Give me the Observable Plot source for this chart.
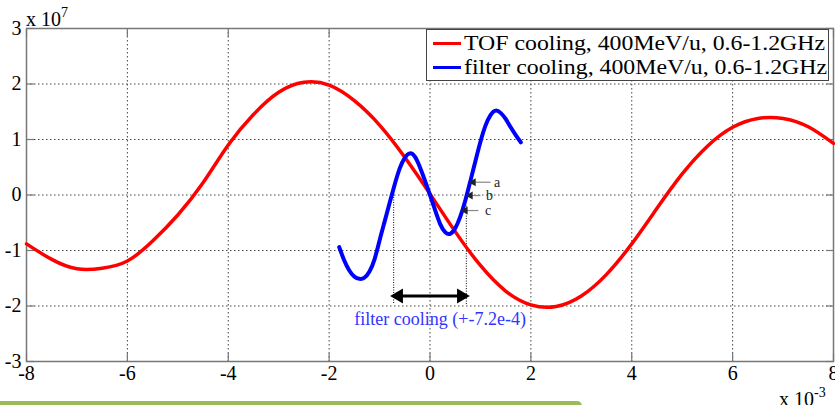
<!DOCTYPE html>
<html><head><meta charset="utf-8">
<script src="https://cdn.jsdelivr.net/npm/d3@7"></script>
<script src="https://cdn.jsdelivr.net/npm/@observablehq/plot@0.6"></script>
<style>
body{margin:0;background:#fff;}
#wrap{position:relative;width:835px;height:405px;overflow:hidden;font-family:"Liberation Serif","Times New Roman",serif;color:#000;}
#wrap svg{position:absolute;left:0;top:0;font-family:"Liberation Serif",serif;}
#wrap svg text{font-family:"Liberation Serif",serif;}
.abs{position:absolute;white-space:nowrap;line-height:1;}
#legend{position:absolute;left:426px;top:29px;width:403px;height:52px;border:1px solid #444;background:#fff;box-sizing:border-box;}
.lrow{position:absolute;left:6px;height:24px;display:flex;align-items:center;font-size:20px;}
.lrow span.sw{display:inline-block;width:28px;height:3px;margin-right:3px;}
.lrow span.lt{display:inline-block;transform-origin:0 50%;}
#greenbar{position:absolute;left:0;top:401px;width:582px;height:8px;background:#9bbb59;border-radius:0 5px 0 0;}
</style></head><body><div id="wrap"></div>
<script>
// TOF cooling curve (x in 1e-3, y in 1e7)
const tofX = [-8,-7.5,-7,-6.5,-6,-5.5,-5,-4.5,-4,-3.5,-3,-2.5,-2,-1.5,-1,-0.5,0,0.5,1,1.5,2,2.5,3,3.5,4,4.5,5,5.5,6,6.5,7,7.5,8];
const tofY = [-0.88,-1.16,-1.33,-1.32,-1.19,-0.83,-0.36,0.22,0.90,1.45,1.85,2.03,1.98,1.70,1.26,0.68,0.02,-0.66,-1.27,-1.73,-1.98,-2.01,-1.82,-1.43,-0.88,-0.24,0.38,0.88,1.22,1.38,1.38,1.23,0.93];
// filter cooling curve
const filterX = [-1.8,-1.7,-1.6,-1.5,-1.4,-1.3,-1.2,-1.1,-1.0,-0.9,-0.8,-0.7,-0.6,-0.5,-0.4,-0.3,-0.2,-0.1,0,0.1,0.2,0.3,0.4,0.5,0.6,0.7,0.8,0.9,1.0,1.1,1.2,1.3,1.4,1.5,1.6,1.7,1.8];
const filterY = [-0.94,-1.18,-1.36,-1.47,-1.51,-1.49,-1.38,-1.16,-0.82,-0.48,-0.14,0.19,0.48,0.67,0.75,0.69,0.50,0.26,0,-0.27,-0.52,-0.67,-0.70,-0.60,-0.39,-0.10,0.25,0.61,0.96,1.25,1.44,1.52,1.48,1.37,1.22,1.08,0.95];
const xTicks = [-8,-6,-4,-2,0,2,4,6,8];
const yTicks = [-3,-2,-1,0,1,2,3];
const legendLabels = ["TOF cooling, 400MeV/u, 0.6-1.2GHz","filter cooling, 400MeV/u, 0.6-1.2GHz"];
const seriesColors = ["#ff0000","#0000ff"];
// annotation: cooling range +-7.2e-4
const bounds = [-0.72, 0.72];
const guideTop = [0, -0.2];
const guideBottom = -1.98;
const spanY = -1.82;
const spanText = "filter cooling (+-7.2e-4)";
const spanTextPos = {x: 0.2, y: -2.24};
const pointerLabels = ["a","b","c"];
const pointerTip = [0.80, 0.74, 0.64];
const pointerTail = [1.20, 1.00, 0.96];
const pointerY = [0.23, -0.01, -0.28];
const pointerTextX = [1.27, 1.11, 1.09];

const tof = tofX.map((x,i)=>({x, y: tofY[i]}));
const filt = filterX.map((x,i)=>({x, y: filterY[i]}));
const guides = bounds.map((x,i)=>({x, y1: guideTop[i], y2: guideBottom}));
const span = [{x1: bounds[0], x2: bounds[1], y: spanY}];
const pointers = pointerLabels.map((t,i)=>({t, tip: pointerTip[i], tail: pointerTail[i], y: pointerY[i], tx: pointerTextX[i]}));

const tickCol = "#777";
const gridOpts = {stroke:"#444", strokeOpacity:1, strokeDasharray:"1.5,2.5", strokeWidth:1};
const serif = "Liberation Serif";

const chart = Plot.plot({
  width: 835, height: 405,
  marginLeft: 26, marginRight: 2, marginTop: 28, marginBottom: 44,
  x: {domain: [-8, 8]},
  y: {domain: [-3, 3]},
  style: {fontFamily: serif, fontSize: "20px", color: "#000", background: "transparent", overflow: "visible"},
  marks: [
    Plot.gridX(xTicks, gridOpts),
    Plot.gridY(yTicks, gridOpts),
    Plot.axisX({ticks: xTicks, anchor: "bottom", tickSize: 0, tickPadding: 4, tickFormat: d => String(d), label: null, fontSize: 20, fontFamily: serif}),
    Plot.axisY({ticks: yTicks, anchor: "left", tickSize: 0, tickPadding: 5, tickFormat: d => String(d), label: null, fontSize: 20, fontFamily: serif}),
    Plot.axisX({ticks: xTicks, anchor: "bottom", tickSize: -8, tickFormat: () => "", label: null, color: tickCol, strokeWidth: 1.2}),
    Plot.axisX({ticks: xTicks, anchor: "top", tickSize: -8, tickFormat: () => "", label: null, color: tickCol, strokeWidth: 1.2}),
    Plot.axisY({ticks: yTicks, anchor: "left", tickSize: -8, tickFormat: () => "", label: null, color: tickCol, strokeWidth: 1.2}),
    Plot.axisY({ticks: yTicks, anchor: "right", tickSize: -8, tickFormat: () => "", label: null, color: tickCol, strokeWidth: 1.2}),
    Plot.frame({stroke: "#777", strokeWidth: 1.5}),
    Plot.ruleX(guides, {x: "x", y1: "y1", y2: "y2", stroke: "#000", strokeWidth: 1, strokeDasharray: "1,1.5"}),
    Plot.line(tof, {x: "x", y: "y", stroke: seriesColors[0], strokeWidth: 3.5, curve: "natural"}),
    Plot.line(filt, {x: "x", y: "y", stroke: seriesColors[1], strokeWidth: 4, curve: "natural"}),
    Plot.link(span, {x1: "x1", x2: "x2", y1: "y", y2: "y", stroke: "#000", strokeWidth: 3, insetLeft: 4, insetRight: 4}),
    Plot.dot(span, {x: "x1", y: "y", rotate: -90, symbol: "triangle", r: 5.5, fill: "#000", stroke: "none", dx: 5}),
    Plot.dot(span, {x: "x2", y: "y", rotate: 90, symbol: "triangle", r: 5.5, fill: "#000", stroke: "none", dx: -5}),
    Plot.text([spanText], {x: spanTextPos.x, y: spanTextPos.y, text: d => d, fill: "#3333ff", fontSize: 18, fontFamily: serif}),
    Plot.link(pointers, {x1: "tail", x2: "tip", y1: "y", y2: "y", stroke: "#888", strokeWidth: 1.2}),
    Plot.dot(pointers, {x: "tip", y: "y", symbol: "triangle", rotate: -90, r: 3, fill: "#222", stroke: "none", dx: 3}),
    Plot.text(pointers, {x: "tx", y: "y", text: "t", textAnchor: "start", fontSize: 14, fill: "#222", fontFamily: serif})
  ]
});
const wrap = document.getElementById("wrap");
wrap.appendChild(chart);

const legend = document.createElement("div");
legend.id = "legend";
legendLabels.forEach((lab, i) => {
  const row = document.createElement("div");
  row.className = "lrow";
  row.style.top = (1 + i * 24) + "px";
  row.innerHTML = `<span class="sw" style="background:${seriesColors[i]}"></span><span class="lt">${lab}</span>`;
  legend.appendChild(row);
});
wrap.appendChild(legend);
// stretch legend text to the reference width
legend.querySelectorAll(".lt").forEach((el, i) => {
  const target = i === 0 ? 361 : 363;
  const w = el.getBoundingClientRect().width;
  if (w > 0) el.style.transform = `scaleX(${target / w})`;
});

const yExp = document.createElement("div");
yExp.className = "abs";
yExp.style.cssText = "left:26px;top:6px;font-size:20px;";
yExp.innerHTML = 'x 10<sup style="font-size:14px;vertical-align:9px;">7</sup>';
wrap.appendChild(yExp);

const xExp = document.createElement("div");
xExp.className = "abs";
xExp.style.cssText = "left:779px;top:386px;font-size:20px;";
xExp.innerHTML = 'x 10<sup style="font-size:14px;vertical-align:9px;">-3</sup>';
wrap.appendChild(xExp);

const gb = document.createElement("div");
gb.id = "greenbar";
wrap.appendChild(gb);
</script></body></html>
